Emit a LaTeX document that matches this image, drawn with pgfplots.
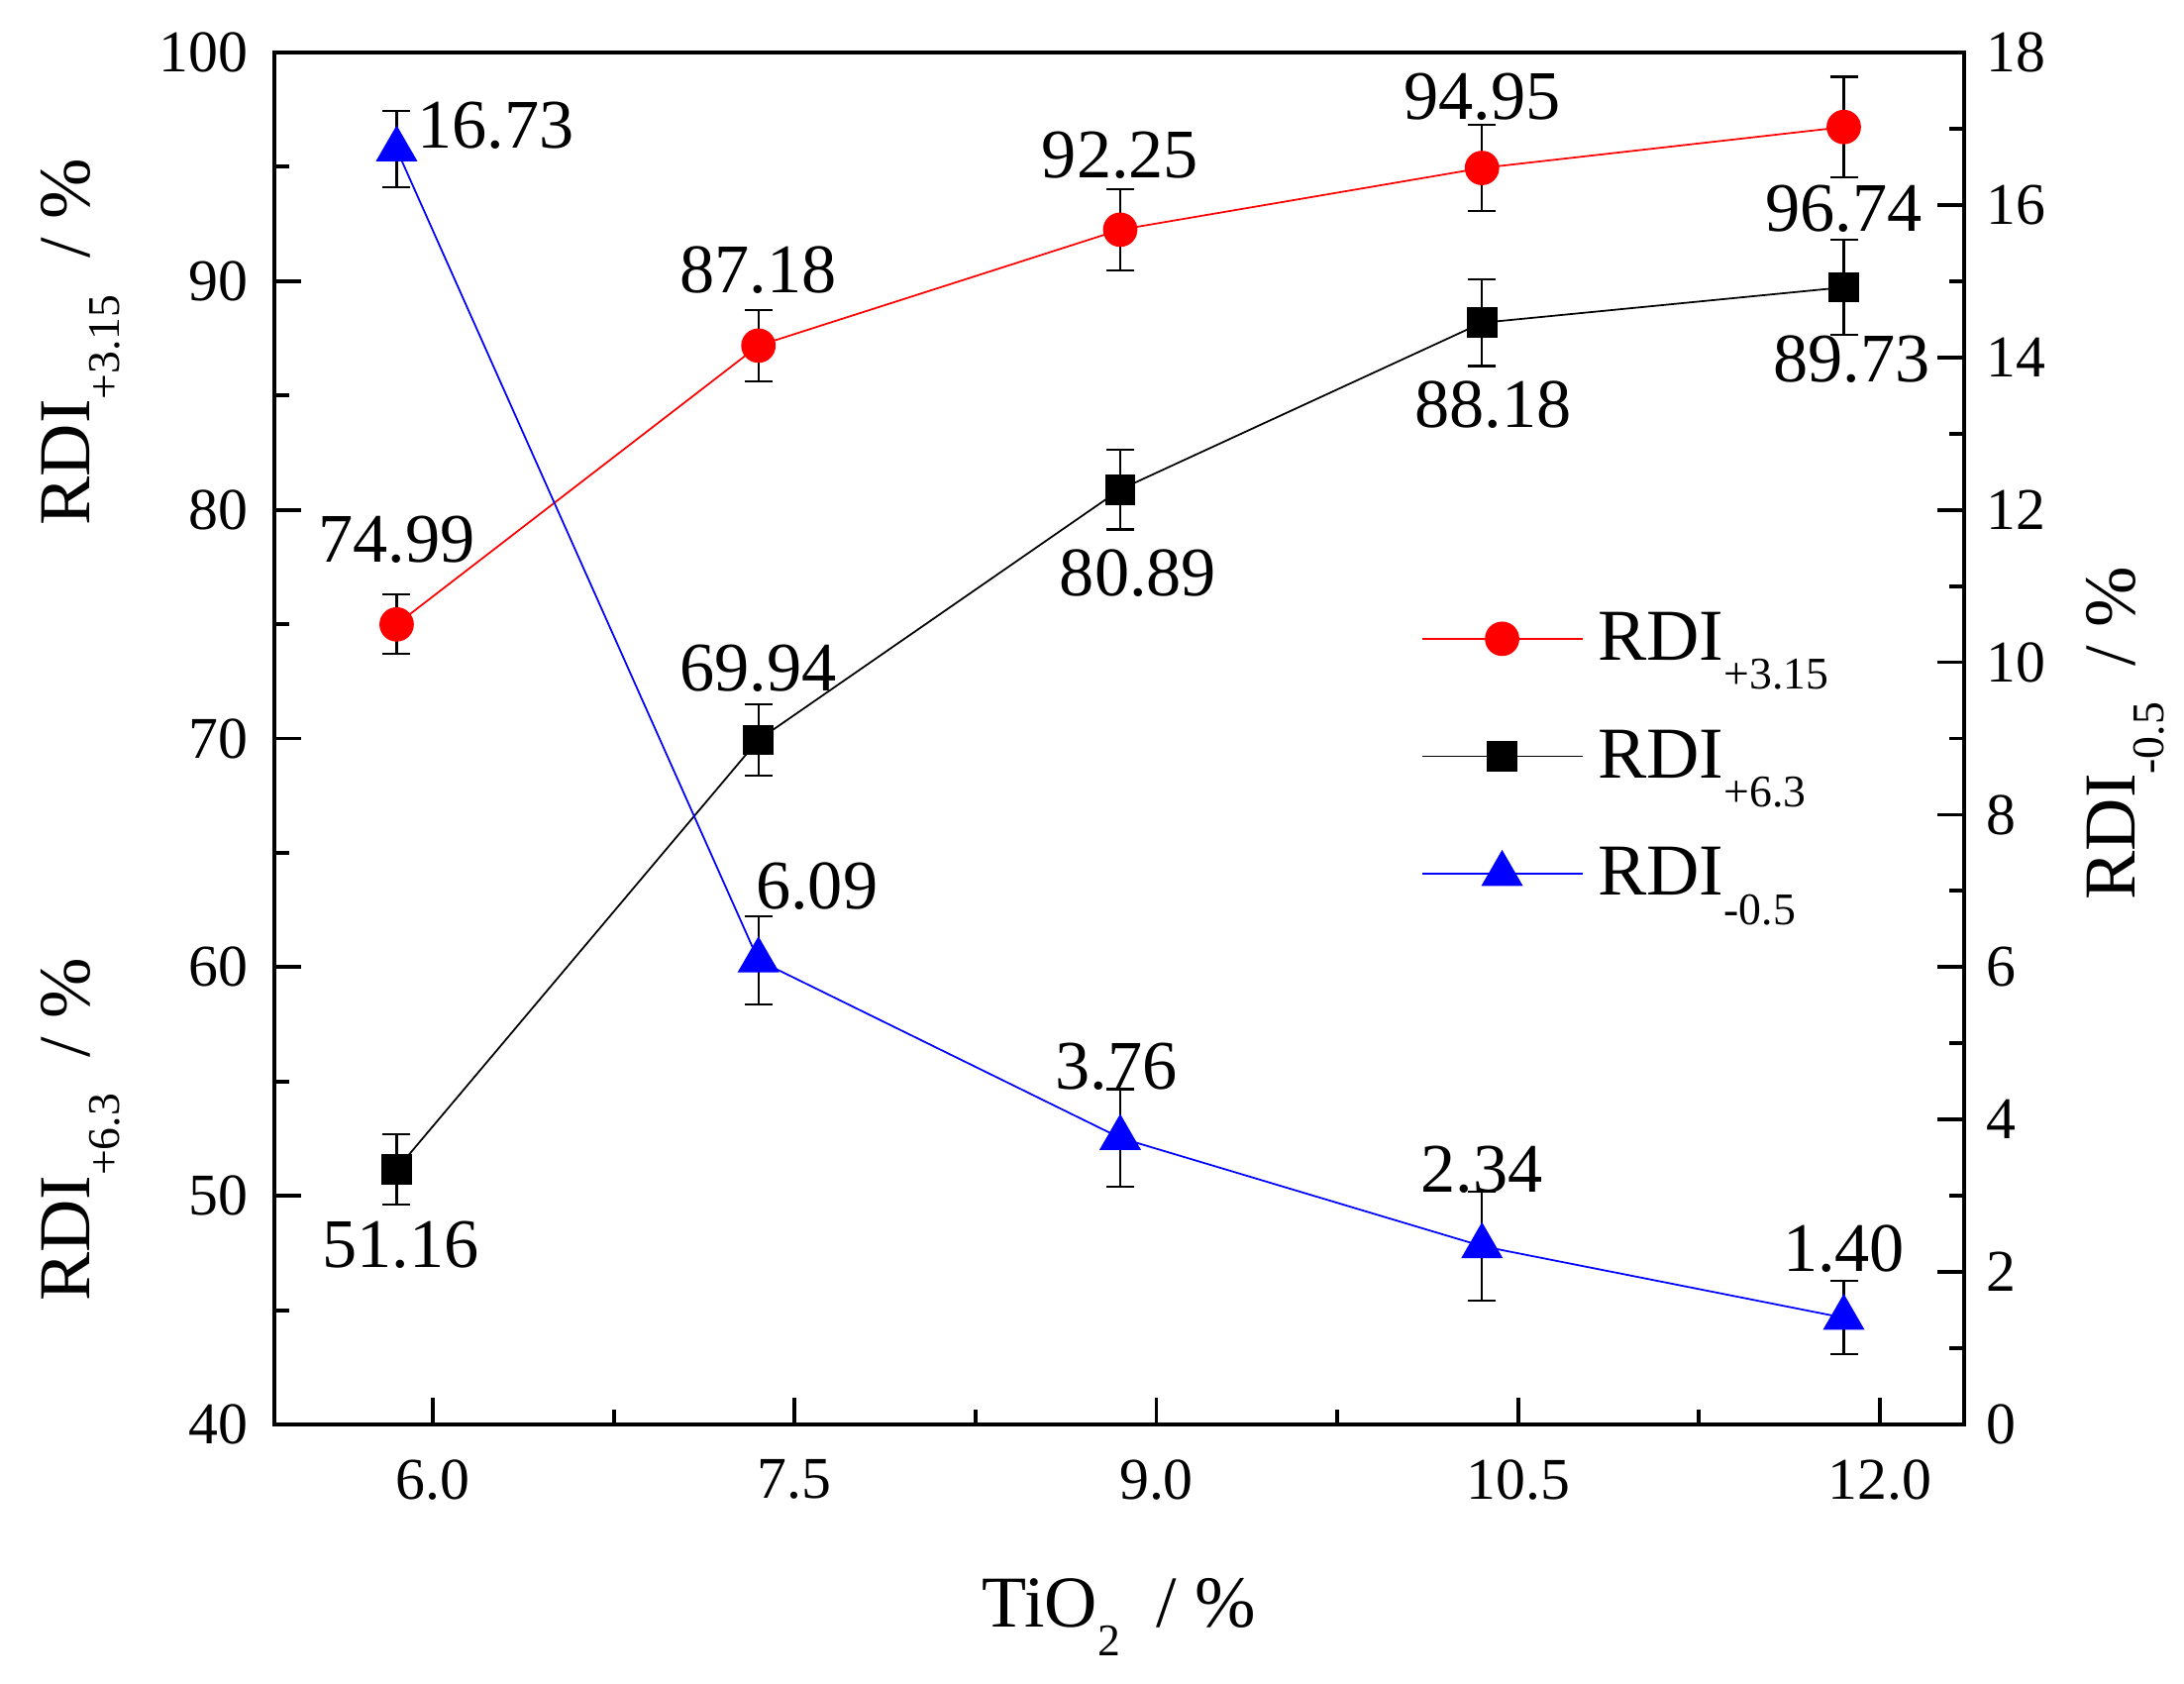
\documentclass[border=0pt]{standalone}
\usepackage{fontspec}
\setmainfont{Liberation Serif}
\usepackage{pgfplots}
\pgfplotsset{compat=1.18}

\newcommand\tfs{\fontsize{17}{20}\selectfont}
\newcommand\dfs{\fontsize{20}{24}\selectfont}
\newcommand\lfs{\fontsize{21}{25}\selectfont}
% subscript set low, Origin style: its top sits near the baseline
\newcommand\sub[1]{\raisebox{-0.40em}{\fontsize{13}{15}\selectfont #1}}

\pgfplotsset{
  base/.style={
    scale only axis, width=17.06cm, height=13.85cm,
    xmin=5.343, xmax=12.349, clip=false,
    tick align=inside, major tick length=0.27cm, minor tick length=0.15cm,
    tick style={line width=1.1pt, black},
    axis line style={line width=1.2pt},
    tick label style={font=\tfs},
    /pgf/number format/assume math mode=true,
    error bars/y dir=both, error bars/y explicit,
    error bars/error bar style={line width=0.6pt, black},
    error bars/error mark options={rotate=90, mark size=0.14cm, line width=0.6pt, black},
  },
  legend image code/.code={
    \draw[mark repeat=2, mark phase=2, #1] plot coordinates {(0cm,0cm) (0.81cm,0cm) (1.62cm,0cm)};
  },
}

\begin{document}
\begin{tikzpicture}
\begin{axis}[base, name=ax,
    ymin=40, ymax=100,
    ytick={40,50,...,100}, minor ytick={45,55,...,95},
    xtick={6,7.5,9,10.5,12}, xticklabels={6.0,7.5,9.0,10.5,12.0},
    minor xtick={6.75,8.25,9.75,11.25},
    xtick pos=left, ytick pos=left,
    yticklabel style={xshift=-0.14cm},
    xticklabel style={yshift=-0.23cm},
  ]
  \coordinate (LL) at (rel axis cs:0,0);
  \coordinate (UR) at (rel axis cs:1,1);
  % RDI +3.15
  \addplot[red, line width=0.5pt, mark=*, mark size=0.165cm, mark options={fill=red, draw=red}]
    coordinates {(5.85,74.99) +- (0,1.30) (7.35,87.18) +- (0,1.56) (8.85,92.25) +- (0,1.77)
                 (10.35,94.95) +- (0,1.90) (11.85,96.74) +- (0,2.20)};
  % RDI +6.3
  \addplot[black, line width=0.5pt, mark=square*, mark size=0.145cm, mark options={fill=black}]
    coordinates {(5.85,51.16) +- (0,1.54) (7.35,69.94) +- (0,1.57) (8.85,80.89) +- (0,1.75)
                 (10.35,88.18) +- (0,1.89) (11.85,89.73) +- (0,2.08)};

  \begin{scope}[every node/.style={font=\dfs, inner sep=0pt}]
    \node at ([shift={(0cm,0.86cm)}]axis cs:5.85,74.99) {74.99};
    \node at ([shift={(0cm,0.76cm)}]axis cs:7.35,87.18) {87.18};
    \node at ([shift={(0cm,0.75cm)}]axis cs:8.85,92.25) {92.25};
    \node at ([shift={(0cm,0.72cm)}]axis cs:10.35,94.95) {94.95};
    \node at ([shift={(0cm,-0.82cm)}]axis cs:11.85,96.74) {96.74};
    \node at ([shift={(0.04cm,-0.76cm)}]axis cs:5.85,51.16) {51.16};
    \node at ([shift={(0cm,0.72cm)}]axis cs:7.35,69.94) {69.94};
    \node at ([shift={(0.18cm,-0.84cm)}]axis cs:8.85,80.89) {80.89};
    \node at ([shift={(0.11cm,-0.83cm)}]axis cs:10.35,88.18) {88.18};
    \node at ([shift={(0.08cm,-0.73cm)}]axis cs:11.85,89.73) {89.73};
  \end{scope}

  \node[rotate=90, anchor=base, font=\lfs] at ([shift={(-1.86cm,0cm)}]rel axis cs:0,0.789)
    {RDI\sub{+3.15}\ \ / \%};
  \node[rotate=90, anchor=base, font=\lfs] at ([shift={(-1.86cm,0cm)}]rel axis cs:0,0.215)
    {RDI\sub{+6.3}\ \ / \%};
  \node[anchor=base, font=\lfs] at ([shift={(0cm,-2.04cm)}]rel axis cs:0.5,0)
    {TiO\sub{2}\ \ / \%};
\end{axis}

\begin{axis}[base,
    ymin=0, ymax=18,
    axis y line*=right, axis x line=none,
    tick align=inside,
    ytick={0,2,...,18}, minor ytick={1,3,...,17},
    yticklabel style={xshift=0.1cm},
    legend style={draw=none, fill=none, at={(rel axis cs:0.672,0.487)}, anchor=west,
      font=\lfs, row sep=0.51cm, cells={anchor=west}, column sep=0.08cm},
  ]
  \addlegendimage{red, line width=0.5pt, mark=*, mark size=0.165cm, mark options={fill=red, draw=red}}
  \addlegendentry{RDI\sub{+3.15}}
  \addlegendimage{black, line width=0.5pt, mark=square*, mark size=0.145cm, mark options={fill=black}}
  \addlegendentry{RDI\sub{+6.3}}
  % RDI -0.5
  \addplot[blue, line width=0.5pt, mark=triangle*, mark size=0.225cm, mark options={fill=blue, draw=blue}]
    coordinates {(5.85,16.73) +- (0,0.50) (7.35,6.09) +- (0,0.58) (8.85,3.76) +- (0,0.64)
                 (10.35,2.34) +- (0,0.72) (11.85,1.40) +- (0,0.48)};
  \addlegendentry{RDI\sub{-0.5}}

  \begin{scope}[every node/.style={font=\dfs, inner sep=0pt}]
    \node at ([shift={(1.0cm,0.24cm)}]axis cs:5.85,16.73) {16.73};
    \node at ([shift={(0.59cm,0.75cm)}]axis cs:7.35,6.09) {6.09};
    \node at ([shift={(-0.04cm,0.72cm)}]axis cs:8.85,3.76) {3.76};
    \node at ([shift={(0cm,0.77cm)}]axis cs:10.35,2.34) {2.34};
    \node at ([shift={(0cm,0.70cm)}]axis cs:11.85,1.40) {1.40};
  \end{scope}

  \node[rotate=90, anchor=base, font=\lfs] at ([shift={(1.72cm,0cm)}]rel axis cs:1,0.504)
    {RDI\sub{-0.5}\ \ / \%};
\end{axis}

\pgfresetboundingbox
\path[use as bounding box] ([shift={(-2.77cm,-2.61cm)}]LL) rectangle ([shift={(2.22cm,0.53cm)}]UR);
\end{tikzpicture}
\end{document}
